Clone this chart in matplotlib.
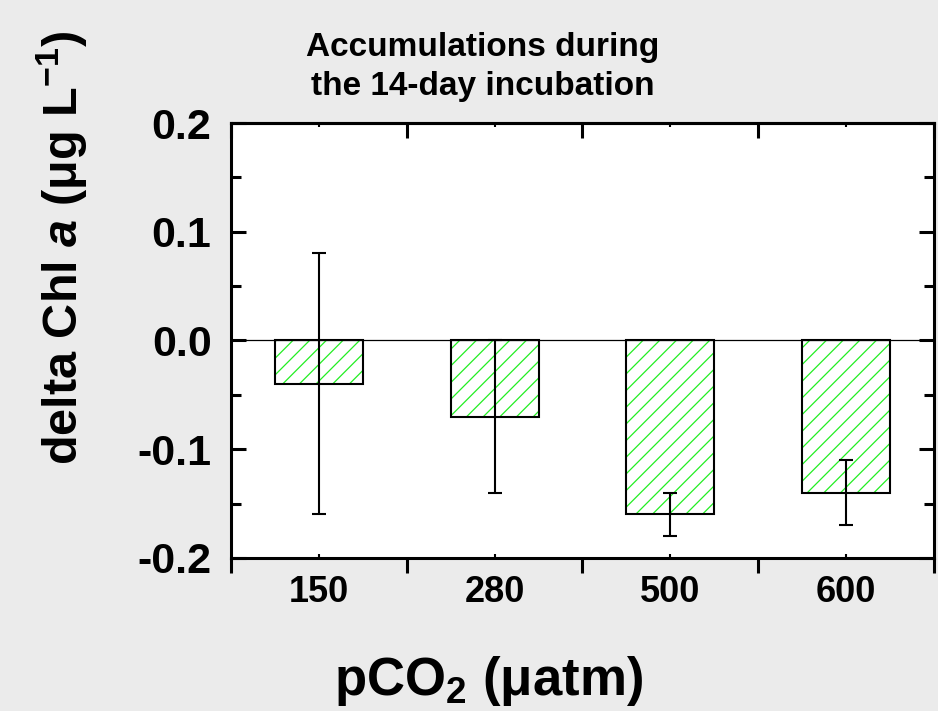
import matplotlib
matplotlib.use('Agg')
import matplotlib.pyplot as plt

# data
pco2_labels = ['150', '280', '500', '600']
delta_chl = [-0.04, -0.07, -0.16, -0.14]
delta_err = [0.12, 0.07, 0.02, 0.03]

BG = '#ebebeb'
HATCH_GREEN = '#22ee22'
FONT = 'Liberation Sans'

plt.rcParams['font.family'] = [FONT, 'DejaVu Sans']
plt.rcParams['font.weight'] = 'bold'
plt.rcParams['mathtext.fontset'] = 'custom'
plt.rcParams['mathtext.rm'] = FONT + ':bold'
plt.rcParams['mathtext.it'] = FONT + ':italic:bold'
plt.rcParams['mathtext.bf'] = FONT + ':bold'
plt.rcParams['hatch.linewidth'] = 0.9

fig = plt.figure(figsize=(9.38, 7.11), dpi=100, facecolor=BG)
ax = fig.add_axes([0.2463, 0.2152, 0.7494, 0.6118])
ax.set_facecolor('white')

x = list(range(1, len(pco2_labels) + 1))

# hatch in green, outline in black (drawn as two layers)
ax.bar(x, delta_chl, width=0.5, color='white', edgecolor=HATCH_GREEN,
       hatch='//', linewidth=0, zorder=2)
ax.bar(x, delta_chl, width=0.5, color='none', edgecolor='black',
       linewidth=1.5, zorder=3)
ax.errorbar(x, delta_chl, yerr=delta_err, fmt='none', ecolor='black',
            elinewidth=1.5, capsize=5, capthick=1.5, zorder=4)
ax.axhline(0, color='black', linewidth=0.9, zorder=3)

ax.set_xlim(0.5, len(pco2_labels) + 0.5)
ax.set_ylim(-0.2, 0.2)

for side in ['left', 'right', 'top', 'bottom']:
    ax.spines[side].set_linewidth(2.2)

# y axis: ticks inward on both sides
ax.set_yticks([-0.2, -0.1, 0.0, 0.1, 0.2])
ax.set_yticklabels(['-0.2', '-0.1', '0.0', '0.1', '0.2'])
ax.set_yticks([-0.15, -0.05, 0.05, 0.15], minor=True)
ax.tick_params(axis='y', which='both', direction='in', left=True, right=True,
               width=2.2)
ax.tick_params(axis='y', which='major', length=11, labelsize=31, pad=14)
ax.tick_params(axis='y', which='minor', length=7)

# x axis: outward ticks at group borders, labels in the middle
borders = [i + 0.5 for i in range(len(pco2_labels) + 1)]
ax.set_xticks(borders)
ax.set_xticklabels([''] * len(borders))
ax.set_xticks(x, minor=True)
ax.set_xticklabels(pco2_labels, minor=True, fontsize=26, fontweight='bold')
ax.tick_params(axis='x', which='major', direction='out', length=11, width=2.2)
ax.tick_params(axis='x', which='minor', direction='in', length=3, width=1.5,
               pad=12)

top = ax.secondary_xaxis('top')
top.set_xticks(borders)
top.set_xticklabels([''] * len(borders))
top.set_xticks(x, minor=True)
top.tick_params(which='major', direction='in', length=11, width=2.2)
top.tick_params(which='minor', direction='in', length=3, width=1.5)
top.spines['top'].set_linewidth(2.2)

fig.text(0.515, 0.866, 'Accumulations during\nthe 14-day incubation',
         ha='center', va='baseline', fontsize=24, fontweight='bold',
         linespacing=1.35)

fig.text(0.067, 0.651, 'delta Chl $a$ (\u03bcg L$^{-1}$)', rotation=90,
         ha='center', va='center', fontsize=35, fontweight='bold')

fig.text(0.521, 0.022, 'pCO$_2$ (\u03bcatm)', ha='center', va='baseline',
         fontsize=38, fontweight='bold')

fig.savefig('out.png', dpi=100, facecolor=BG)
